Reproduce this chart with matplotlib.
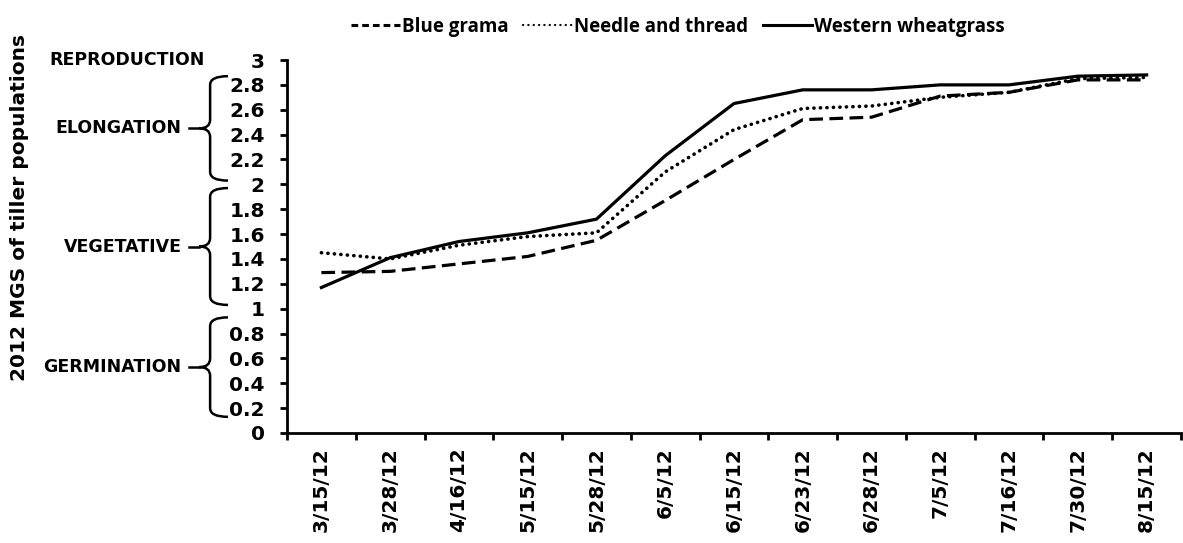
import numpy as np
import matplotlib
matplotlib.use("Agg")
import matplotlib.pyplot as plt
from matplotlib.path import Path
from matplotlib.patches import PathPatch
from matplotlib.lines import Line2D
import matplotlib.transforms as mtransforms

plt.rcParams["font.family"] = "DejaVu Sans"

# Data
dates = ["3/15/12", "3/28/12", "4/16/12", "5/15/12", "5/28/12", "6/5/12", "6/15/12",
         "6/23/12", "6/28/12", "7/5/12", "7/16/12", "7/30/12", "8/15/12"]
blue_grama = [1.29, 1.30, 1.36, 1.42, 1.55, 1.87, 2.20, 2.52, 2.54, 2.71, 2.74, 2.84, 2.84]
needle_thread = [1.45, 1.40, 1.51, 1.58, 1.61, 2.10, 2.44, 2.61, 2.63, 2.70, 2.74, 2.85, 2.86]
western_wheat = [1.17, 1.41, 1.54, 1.61, 1.72, 2.23, 2.65, 2.76, 2.76, 2.80, 2.80, 2.87, 2.88]

stages = ["REPRODUCTION", "ELONGATION", "VEGETATIVE", "GERMINATION"]
stage_y = [3.0, 2.48, 1.52, 0.54]
# brace extents (bottom, top) for stages that have one
brace_spans = [None, (2.03, 2.87), (1.03, 1.97), (0.13, 0.93)]

fig = plt.figure(figsize=(11.83, 5.43), dpi=100)
ax = fig.add_axes([287 / 1183, 1 - 433 / 543, 894 / 1183, 373 / 543])

x = np.arange(len(dates))
ax.plot(x, blue_grama, color="black", lw=2.3, dashes=(4.3, 2.0))
ax.plot(x, needle_thread, color="black", lw=2.6, dashes=(0.05, 1.75), dash_capstyle="round")
ax.plot(x, western_wheat, color="black", lw=2.3)

ax.set_xlim(-0.5, len(dates) - 0.5)
ax.set_ylim(0, 3)
ax.set_yticks(np.arange(0, 3.01, 0.2))
ax.set_yticklabels(["0", "0.2", "0.4", "0.6", "0.8", "1", "1.2", "1.4", "1.6", "1.8",
                    "2", "2.2", "2.4", "2.6", "2.8", "3"])
ax.set_xticks(np.arange(-0.5, len(dates), 1.0))
ax.set_xticklabels([])
ax.set_xticks(x, minor=True)
ax.set_xticklabels(dates, minor=True, rotation=90, fontsize=14.5, fontweight="bold")
ax.tick_params(axis="x", which="minor", length=0, pad=10)
ax.tick_params(axis="x", which="major", length=5, width=2, direction="out")
ax.tick_params(axis="y", length=5, width=2, direction="out", pad=11, labelsize=14.5)
for lab in ax.get_yticklabels():
    lab.set_fontweight("bold")

for side in ["top", "right"]:
    ax.spines[side].set_visible(False)
for side in ["left", "bottom"]:
    ax.spines[side].set_linewidth(2)

# y-axis title
fig.text(20 / 1183, 0.617, "2012 MGS of tiller populations", rotation=90,
         ha="center", va="center", fontsize=14.5, fontweight="bold")

# stage labels and curly braces
trans = mtransforms.blended_transform_factory(ax.transAxes, ax.transData)
bx = -0.086
dx = 0.02
dy = 0.07
for name, yy, span in zip(stages, stage_y, brace_spans):
    if span is None:
        ax.text((205 - 287) / 894, yy, name, transform=trans, ha="right",
                va="center", fontsize=12.5, fontweight="bold", clip_on=False)
        continue
    y0, y1 = span
    ym = (y0 + y1) / 2
    verts = [(bx + dx, y1), (bx, y1), (bx, y1 - dy),
             (bx, ym + dy), (bx, ym), (bx - dx * 0.6, ym),
             (bx, ym), (bx, ym - dy),
             (bx, y0 + dy), (bx, y0), (bx + dx, y0)]
    codes = [Path.MOVETO, Path.CURVE3, Path.CURVE3,
             Path.LINETO, Path.CURVE3, Path.CURVE3,
             Path.CURVE3, Path.CURVE3,
             Path.LINETO, Path.CURVE3, Path.CURVE3]
    ax.add_patch(PathPatch(Path(verts, codes), transform=trans, fill=False,
                           lw=1.8, color="black", clip_on=False))
    ax.plot([bx - dx * 0.6 - 0.012, bx - dx * 0.6], [ym, ym], color="black", lw=1.8,
            transform=trans, clip_on=False)
    ax.text(bx - dx * 0.6 - 0.02, ym, name, transform=trans, ha="right",
            va="center", fontsize=12.5, fontweight="bold", clip_on=False)

handles = [Line2D([], [], color="black", lw=2.2, dashes=(2.2, 1.3)),
           Line2D([], [], color="black", lw=1.6, dashes=(0.1, 2.3), dash_capstyle="round"),
           Line2D([], [], color="black", lw=2.2)]
fig.legend(handles, ["Blue grama", "Needle and thread", "Western wheatgrass"],
           loc="upper center", bbox_to_anchor=(0.573, 1.0), ncol=3, frameon=False,
           handlelength=2.6, handletextpad=0.1, columnspacing=0.8,
           prop={"family": "Open Sans", "weight": "bold", "size": 13.5})

fig.savefig("out.png", dpi=100)
